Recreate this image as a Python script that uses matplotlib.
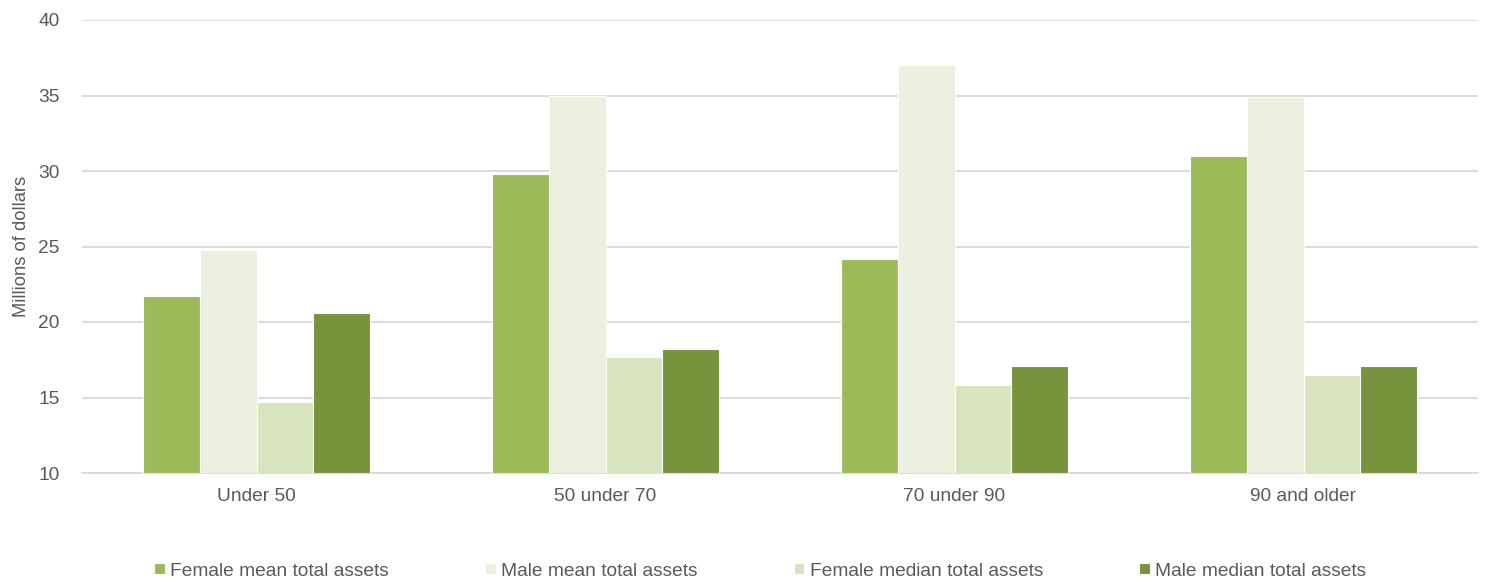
import numpy as np
import matplotlib.pyplot as plt

plt.rcParams['font.family'] = ['Liberation Sans', 'DejaVu Sans']

categories = ['Under 50', '50 under 70', '70 under 90', '90 and older']
series_names = ['Female mean total assets', 'Male mean total assets',
                'Female median total assets', 'Male median total assets']
female_mean = [21.7, 29.8, 24.2, 31.0]
male_mean = [24.8, 35.0, 37.0, 34.9]
female_median = [14.7, 17.7, 15.8, 16.5]
male_median = [20.6, 18.2, 17.1, 17.1]
colors = ['#9BBB59', '#EBF1DE', '#D7E4BD', '#77933C']

fig = plt.figure(figsize=(14.85, 5.81), dpi=100)
ax = fig.add_axes([82 / 1485, 1 - 473 / 581, 1396 / 1485, 453 / 581])

x = np.arange(len(categories))
w = 0.162
for i, (vals, name) in enumerate(zip([female_mean, male_mean, female_median, male_median], series_names)):
    ax.bar(x + (i - 1.5) * w, np.array(vals) - 10, w, bottom=10, color=colors[i],
           edgecolor='white', linewidth=0.8, label=name, zorder=3)

ax.set_xlim(-0.5, 3.5)
ax.set_ylim(10, 40)
ax.set_yticks(range(10, 41, 5))
ax.set_xticks(x)
ax.set_xticklabels(categories)
ax.yaxis.grid(True, color='#D9D9D9', linewidth=1.3, zorder=0)
ax.set_axisbelow(True)
for s in ['top', 'right', 'left']:
    ax.spines[s].set_visible(False)
ax.spines['bottom'].set_color('#D9D9D9')
ax.spines['bottom'].set_linewidth(1.3)
ax.tick_params(axis='both', length=0, labelsize=13.8, colors='#595959')
ax.tick_params(axis='x', pad=11)
ax.tick_params(axis='y', pad=16)
ax.set_ylabel('Millions of dollars', fontsize=13.2, color='#595959', labelpad=6)

fig.legend(loc='center', bbox_to_anchor=(0.512, 1 - 571 / 581), ncol=4, frameon=False,
           fontsize=13.8, handlelength=0.55, handleheight=0.55, handletextpad=0.3,
           columnspacing=5.0, labelcolor='#595959')

fig.savefig('out.png', dpi=100)
